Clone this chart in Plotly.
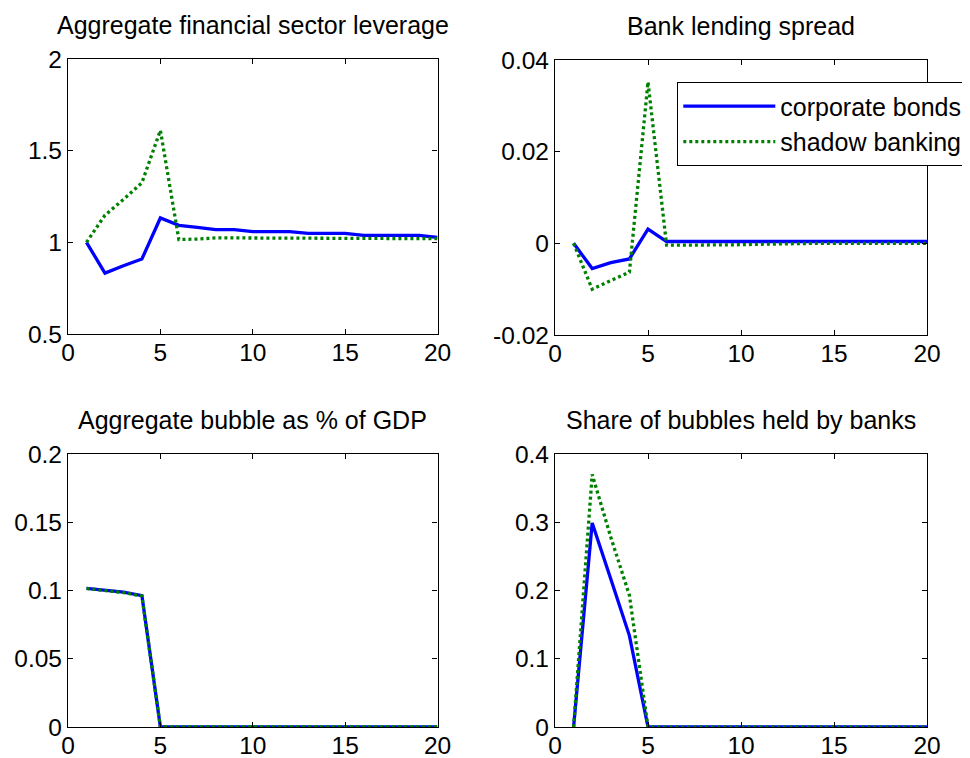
import plotly.graph_objects as go

periods = list(range(1, 21))

# Panel 1: Aggregate financial sector leverage
lev_corp = [1.0, 0.832, 0.872, 0.909, 1.133, 1.093, 1.082, 1.069, 1.069, 1.058,
            1.058, 1.058, 1.049, 1.049, 1.049, 1.038, 1.038, 1.038, 1.038, 1.027]
lev_shadow = [1.0, 1.148, 1.234, 1.325, 1.611, 1.015, 1.018, 1.024, 1.024, 1.024,
              1.024, 1.024, 1.024, 1.024, 1.024, 1.022, 1.022, 1.022, 1.021, 1.02]

# Panel 2: Bank lending spread
spr_corp = [0.0, -0.0055, -0.0042, -0.0034, 0.0031, 0.0004, 0.0004, 0.0004, 0.0004, 0.0004,
            0.0004, 0.0004, 0.0004, 0.0004, 0.0004, 0.0004, 0.0004, 0.0004, 0.0004, 0.0004]
spr_shadow = [0.0, -0.0100, -0.0081, -0.0063, 0.0352, -0.0004, -0.0004, -0.0004, -0.0004, -0.0003,
              -0.0002, -0.0001, -0.0001, 0.0, 0.0, 0.0, 0.0, 0.0, 0.0, 0.0]

# Panel 3: Aggregate bubble as % of GDP
bub_corp = [0.1015, 0.1003, 0.0988, 0.0963, 0.0, 0.0, 0.0, 0.0, 0.0, 0.0,
            0.0, 0.0, 0.0, 0.0, 0.0, 0.0, 0.0, 0.0, 0.0, 0.0]
bub_shadow = [0.1015, 0.1003, 0.0985, 0.0960, 0.0, 0.0, 0.0, 0.0, 0.0, 0.0,
              0.0, 0.0, 0.0, 0.0, 0.0, 0.0, 0.0, 0.0, 0.0, 0.0]

# Panel 4: Share of bubbles held by banks
shr_corp = [0.0, 0.299, 0.217, 0.134, 0.0, 0.0, 0.0, 0.0, 0.0, 0.0,
            0.0, 0.0, 0.0, 0.0, 0.0, 0.0, 0.0, 0.0, 0.0, 0.0]
shr_shadow = [0.0, 0.370, 0.278, 0.193, 0.0, 0.0, 0.0, 0.0, 0.0, 0.0,
              0.0, 0.0, 0.0, 0.0, 0.0, 0.0, 0.0, 0.0, 0.0, 0.0]

titles = ["Aggregate financial sector leverage", "Bank lending spread",
          "Aggregate bubble as % of GDP", "Share of bubbles held by banks"]
series_names = ["corporate bonds", "shadow banking"]

x_ticks = [0, 5, 10, 15, 20]
x_ticklabels = ["0", "5", "10", "15", "20"]

y_ticks = [
    [0.5, 1, 1.5, 2],
    [-0.02, 0, 0.02, 0.04],
    [0, 0.05, 0.1, 0.15, 0.2],
    [0, 0.1, 0.2, 0.3, 0.4],
]
y_ticklabels = [
    ["0.5", "1", "1.5", "2"],
    ["-0.02", "0", "0.02", "0.04"],
    ["0", "0.05", "0.1", "0.15", "0.2"],
    ["0", "0.1", "0.2", "0.3", "0.4"],
]
y_ranges = [[0.5, 2], [-0.02, 0.04], [0, 0.2], [0, 0.4]]

data_pairs = [(lev_corp, lev_shadow), (spr_corp, spr_shadow),
              (bub_corp, bub_shadow), (shr_corp, shr_shadow)]

W, H = 970, 758
OFF = 8  # page body margin offset compensation
FONT = "Liberation Sans, Arial, Helvetica, sans-serif"
TICK_SIZE = 24.5
TEXT_SIZE = 25

# target pixel boxes in the screenshot (left, right, top, bottom)
boxes = [(68, 437.5, 59, 334), (555, 927, 60, 335),
         (68, 437.5, 454, 727), (555, 927, 454, 727)]

fig = go.Figure()
layout = dict(
    width=W, height=H,
    margin=dict(l=0, r=0, t=0, b=0, autoexpand=False),
    paper_bgcolor="white", plot_bgcolor="white",
    font=dict(family=FONT, size=TICK_SIZE, color="black"),
    showlegend=True,
)

annotations = []
for i, (corp, shadow) in enumerate(data_pairs):
    k = "" if i == 0 else str(i + 1)
    xa, ya = "x" + k, "y" + k
    fig.add_trace(go.Scatter(x=periods, y=corp, mode="lines", name=series_names[0],
                             line=dict(color="#0000FF", width=3.3),
                             xaxis=xa, yaxis=ya, showlegend=(i == 1),
                             legendgroup="c"))
    fig.add_trace(go.Scatter(x=periods, y=shadow, mode="lines", name=series_names[1],
                             line=dict(color="#008000", width=3.3, dash="3px,3px"),
                             xaxis=xa, yaxis=ya, showlegend=(i == 1),
                             legendgroup="s"))
    l, r, t, b = [v - OFF for v in boxes[i]]
    common = dict(showline=True, linecolor="black", linewidth=1.3, mirror="ticks",
                  ticks="inside", ticklen=5, tickcolor="black", tickwidth=1.3,
                  showgrid=False, zeroline=False, automargin=False,
                  tickfont=dict(family=FONT, size=TICK_SIZE, color="black"))
    layout["xaxis" + k] = dict(domain=[l / W, r / W], range=[0, 20],
                               tickvals=x_ticks, ticktext=x_ticklabels,
                               anchor=ya, ticklabelstandoff=-4, **common)
    layout["yaxis" + k] = dict(domain=[1 - b / H, 1 - t / H], range=y_ranges[i],
                               tickvals=y_ticks[i], ticktext=y_ticklabels[i],
                               anchor=xa, **common)
    annotations.append(dict(text=titles[i], x=(l + r) / 2 / W, y=1 - (t - 34) / H,
                            xref="paper", yref="paper", xanchor="center",
                            yanchor="middle", showarrow=False,
                            font=dict(family=FONT, size=TEXT_SIZE, color="black")))

layout["annotations"] = annotations
layout["legend"] = dict(x=(677 - OFF) / W, y=1 - (82 - OFF) / H, xanchor="left",
                        yanchor="top", bgcolor="white", bordercolor="black",
                        borderwidth=1.3,
                        font=dict(family=FONT, size=TEXT_SIZE, color="black"),
                        itemwidth=92, tracegroupgap=0)
fig.update_layout(**layout)
fig.write_html("out.html")
